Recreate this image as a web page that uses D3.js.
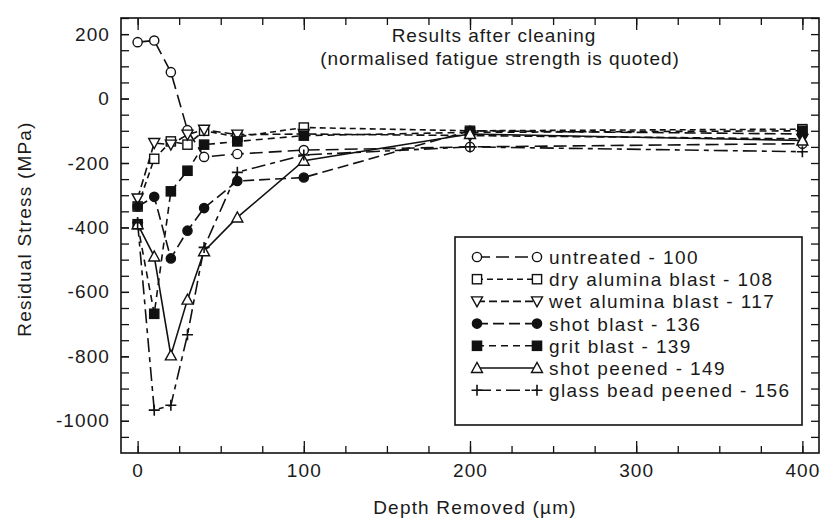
<!DOCTYPE html>
<html>
<head>
<meta charset="utf-8">
<script src="https://cdn.jsdelivr.net/npm/d3@7"></script>
<style>
  body { margin: 0; background: #fff; }
  svg text { font-family: "Liberation Sans", Arial, sans-serif; fill: #1a1a1a; }
</style>
</head>
<body>
<div class="chartContainer"></div>
<script>
const width = 826,
  height = 523;
const margin = { left: 121, right: 819, top: 18, bottom: 453 };

// depth removed (um)
const depths = [0, 10, 20, 30, 40, 60, 100, 200, 400];
// residual stress (MPa), one array per treatment
const untreated = [175, 180, 82, -98, -181, -172, -160, -150, -140];
const dryAlumina = [-335, -187, -133, -143, -100, -119, -90, -100, -95];
const wetAlumina = [-310, -138, -143, -112, -97, -112, -110, -115, -125];
const shotBlast = [-335, -305, -496, -410, -340, -256, -245, -100, -110];
const gritBlast = [-390, -668, -288, -224, -143, -133, -115, -105, -100];
const shotPeened = [-390, -490, -797, -624, -474, -369, -193, -110, -130];
const glassBead = [-385, -967, -952, -733, -462, -229, -175, -150, -165];

const seriesNames = [
  "untreated - 100",
  "dry alumina blast - 108",
  "wet alumina blast - 117",
  "shot blast - 136",
  "grit blast - 139",
  "shot peened - 149",
  "glass bead peened - 156",
];

const xTicksMajor = [0, 100, 200, 300, 400];
const yTicksMajor = [-1000, -800, -600, -400, -200, 0, 200];

const series = [
  { name: seriesNames[0], y: untreated, marker: "circleOpen", dash: "13,6" },
  { name: seriesNames[1], y: dryAlumina, marker: "squareOpen", dash: "6,4" },
  { name: seriesNames[2], y: wetAlumina, marker: "triDown", dash: "8,4" },
  { name: seriesNames[3], y: shotBlast, marker: "circleFilled", dash: "11,5" },
  { name: seriesNames[4], y: gritBlast, marker: "squareFilled", dash: "7,5" },
  { name: seriesNames[5], y: shotPeened, marker: "triUp", dash: null },
  { name: seriesNames[6], y: glassBead, marker: "plus", dash: "14,5,5,5" },
];

const svg = d3
  .select(".chartContainer")
  .append("svg")
  .attr("width", width)
  .attr("height", height);

const xScale = d3.scaleLinear().domain([-10, 410]).range([margin.left, margin.right]);
const yScale = d3.scaleLinear().domain([-1100, 250]).range([margin.bottom, margin.top]);

// axes, ticks pointing inward
function styleAxis(g) {
  g.select(".domain").remove();
  g.selectAll("line").attr("stroke", "#111").attr("stroke-width", 1.3);
  g.selectAll("text")
    .style("font-size", "19px")
    .style("letter-spacing", "1.1px")
    .attr("fill", "#1a1a1a");
}

svg.append("g")
  .attr("transform", `translate(0,${margin.bottom})`)
  .call(d3.axisBottom(xScale).tickValues(d3.range(0, 401, 25)).tickSize(-7).tickFormat(""))
  .call(styleAxis);
svg.append("g")
  .attr("transform", `translate(0,${margin.bottom})`)
  .call(d3.axisBottom(xScale).tickValues(xTicksMajor).tickSize(-12).tickPadding(11))
  .call(styleAxis);
svg.append("g")
  .attr("transform", `translate(0,${margin.top})`)
  .call(d3.axisTop(xScale).tickValues(d3.range(0, 401, 25)).tickSize(-7).tickFormat(""))
  .call(styleAxis);
svg.append("g")
  .attr("transform", `translate(0,${margin.top})`)
  .call(d3.axisTop(xScale).tickValues(xTicksMajor).tickSize(-12).tickFormat(""))
  .call(styleAxis);

svg.append("g")
  .attr("transform", `translate(${margin.left},0)`)
  .call(d3.axisLeft(yScale).tickValues(d3.range(-1050, 251, 50)).tickSize(-8).tickFormat(""))
  .call(styleAxis);
svg.append("g")
  .attr("transform", `translate(${margin.left},0)`)
  .call(d3.axisLeft(yScale).tickValues(yTicksMajor).tickSize(-8).tickPadding(11).tickFormat((d) => String(d)))
  .call(styleAxis);
svg.append("g")
  .attr("transform", `translate(${margin.right},0)`)
  .call(d3.axisRight(yScale).tickValues(d3.range(-1050, 251, 50)).tickSize(-8).tickFormat(""))
  .call(styleAxis);

// frame
svg.append("rect")
  .attr("x", margin.left)
  .attr("y", margin.top)
  .attr("width", margin.right - margin.left)
  .attr("height", margin.bottom - margin.top)
  .attr("fill", "none")
  .attr("stroke", "#111")
  .attr("stroke-width", 1.6);

// marker drawing
function drawMarker(g, type, cx, cy) {
  const s = 4.6;
  if (type === "circleOpen" || type === "circleFilled") {
    g.append("circle").attr("cx", cx).attr("cy", cy).attr("r", s)
      .attr("fill", type === "circleFilled" ? "#111" : "#fff")
      .attr("stroke", "#111").attr("stroke-width", 1.4);
  } else if (type === "squareOpen" || type === "squareFilled") {
    g.append("rect").attr("x", cx - s).attr("y", cy - s).attr("width", 2 * s).attr("height", 2 * s)
      .attr("fill", type === "squareFilled" ? "#111" : "#fff")
      .attr("stroke", "#111").attr("stroke-width", 1.4);
  } else if (type === "triDown" || type === "triUp") {
    const d = type === "triUp" ? -1 : 1;
    const pts = [
      [cx - 5.5, cy - d * 4.5],
      [cx + 5.5, cy - d * 4.5],
      [cx, cy + d * 5.5],
    ];
    g.append("polygon").attr("points", pts.map((p) => p.join(",")).join(" "))
      .attr("fill", "#fff").attr("stroke", "#111").attr("stroke-width", 1.4);
  } else if (type === "plus") {
    g.append("path").attr("d", `M${cx - 5.5},${cy}H${cx + 5.5}M${cx},${cy - 5.5}V${cy + 5.5}`)
      .attr("stroke", "#111").attr("stroke-width", 1.6);
  }
}

const line = d3.line().x((d) => xScale(d[0])).y((d) => yScale(d[1]));

series.forEach((s) => {
  const pts = depths.map((xv, i) => [xv, s.y[i]]);
  svg.append("path")
    .datum(pts)
    .attr("d", line)
    .attr("fill", "none")
    .attr("stroke", "#111")
    .attr("stroke-width", 1.6)
    .attr("stroke-dasharray", s.dash);
});
series.forEach((s) => {
  const g = svg.append("g");
  depths.forEach((xv, i) => drawMarker(g, s.marker, xScale(xv), yScale(s.y[i])));
});

// titles
svg.append("text").attr("x", 494).attr("y", 42).attr("text-anchor", "middle")
  .style("font-size", "19px").style("letter-spacing", "1px").text("Results after cleaning");
svg.append("text").attr("x", 500).attr("y", 65).attr("text-anchor", "middle")
  .style("font-size", "19px").style("letter-spacing", "0.9px").text("(normalised fatigue strength is quoted)");

svg.append("text").attr("x", 475).attr("y", 514).attr("text-anchor", "middle")
  .style("font-size", "19px").style("letter-spacing", "1.2px").text("Depth Removed (\u00b5m)");
svg.append("text")
  .attr("transform", "translate(31,229) rotate(-90)")
  .attr("text-anchor", "middle")
  .style("font-size", "19px").style("letter-spacing", "1.2px").text("Residual Stress (MPa)");

// legend
const legend = svg.append("g");
legend.append("rect")
  .attr("x", 455).attr("y", 237).attr("width", 347).attr("height", 188)
  .attr("fill", "#fff").attr("stroke", "#111").attr("stroke-width", 1.6);
series.forEach((s, i) => {
  const yy = 257 + i * 22.2;
  legend.append("line")
    .attr("x1", 477).attr("x2", 537).attr("y1", yy).attr("y2", yy)
    .attr("stroke", "#111").attr("stroke-width", 1.6)
    .attr("stroke-dasharray", s.dash);
  drawMarker(legend, s.marker, 477, yy);
  drawMarker(legend, s.marker, 537, yy);
  legend.append("text").attr("x", 549).attr("y", yy + 7)
    .style("font-size", "19px").style("letter-spacing", "1.4px").text(s.name);
});
</script>
</body>
</html>
